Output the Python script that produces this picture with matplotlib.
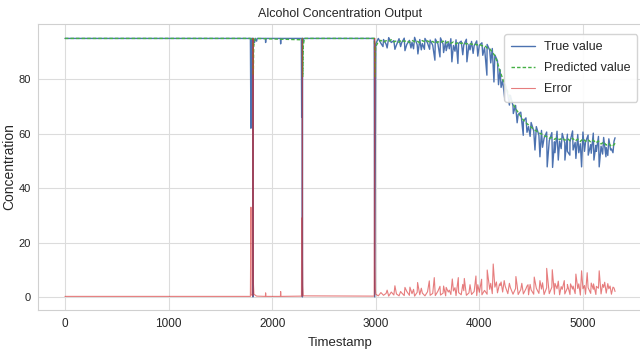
from __future__ import annotations

import matplotlib

matplotlib.use("Agg")
import matplotlib.pyplot as plt
import numpy as np
import seaborn as sns

# --- data ------------------------------------------------------------------
# quiet stretch (0..2990): explicit points around the three outage events
pre_t = [0, 1790, 1795, 1800, 1813, 1815, 1817, 1830, 1835, 1850, 1855, 1935, 1937, 1940,
         2080, 2082, 2085, 2282, 2285, 2288, 2290, 2292, 2294, 2300, 2305, 2985, 2990]
pre_true = [95.0, 95.0, 62.0, 95.0, 95.0, 0.0, 95.0, 93.5, 95.0, 94.0, 95.0, 95.0, 93.5, 95.0,
            95.0, 93.0, 95.0, 95.0, 66.0, 95.0, 95.0, 0.0, 95.0, 93.5, 95.0, 95.0, 0.0]

pred_pre_t = [0, 1790, 1797, 1816, 1818, 1822, 1830, 1840, 2286, 2293, 2295, 2300, 2310,
              2988, 2993, 2998]
pred_pre = [95.0, 95.0, 94.2, 95.0, 81.5, 92.0, 94.0, 95.0, 94.5, 95.0, 81.0, 92.0, 95.0,
            95.0, 81.0, 92.0]

err_pre_t = [0, 1790, 1795, 1797, 1813, 1815, 1817, 1819, 1824, 1850, 1935, 1937, 1940,
             2080, 2082, 2085, 2283, 2285, 2287, 2290, 2292, 2294, 2296, 2300, 2985, 2990,
             2993, 2996]
err_pre = [0.2, 0.2, 33.0, 1.0, 0.3, 95.0, 14.0, 5.0, 1.0, 0.3, 0.2, 1.5, 0.2,
           0.2, 2.0, 0.2, 0.3, 29.0, 1.0, 0.3, 95.0, 14.0, 4.0, 0.4, 0.3, 95.0,
           12.0, 3.0]

# noisy stretch (3000..5300, one reading every 25 steps, then the last sample)
noisy_t = list(range(3000, 5301, 25)) + [5310]
noisy_true = [
    93.0, 95.0, 93.2, 94.6, 92.9, 95.3, 93.5, 94.2, 92.6, 94.9, 93.4, 95.1, 92.8, 94.3,
    93.6, 95.4, 92.7, 94.6, 93.1, 95.0, 93.3, 94.4, 92.5, 94.8, 93.0, 95.2, 92.9, 94.1,
    93.5, 94.9, 92.4, 94.5, 93.2, 94.0, 92.6, 94.7, 92.8, 93.9, 92.3, 94.1, 92.5, 93.4,
    91.6, 92.8, 90.7, 91.3, 88.9, 86.8, 83.5, 79.5, 78.2, 74.3, 74.1, 70.2, 70.4, 67.1,
    67.9, 64.6, 65.8, 62.6, 64.1, 61.0, 62.6, 59.4, 61.2, 58.3, 60.6, 57.4, 60.4, 57.0,
    60.9, 57.2, 60.1, 56.6, 59.8, 57.0, 61.0, 56.8, 59.7, 56.3, 60.6, 56.9, 59.5, 56.0,
    60.2, 55.7, 59.0, 55.4, 58.6, 54.9, 58.1, 54.4, 57.2, 58.5,
]
noisy_pred = [
    92.0, 93.8, 94.3, 93.6, 94.2, 93.9, 94.5, 93.7, 94.1, 93.6, 94.4, 93.9, 94.2, 93.5,
    94.3, 93.8, 94.0, 93.4, 94.2, 93.7, 94.1, 93.5, 93.9, 93.2, 93.8, 93.4, 94.0, 93.3,
    93.8, 93.2, 93.7, 93.0, 93.6, 93.1, 93.5, 92.9, 93.3, 92.8, 93.1, 92.6, 92.9, 92.3,
    92.4, 91.5, 91.2, 90.0, 88.6, 86.0, 83.0, 80.2, 77.6, 75.3, 73.0, 71.0, 69.2, 67.8,
    66.3, 65.0, 64.0, 63.2, 62.4, 61.6, 61.0, 60.3, 59.9, 59.2, 58.9, 58.3, 58.6, 57.9,
    58.5, 57.8, 58.4, 57.6, 58.2, 57.4, 58.3, 57.3, 58.0, 57.1, 58.1, 57.2, 57.8, 56.9,
    57.6, 56.6, 57.3, 56.2, 56.9, 55.8, 56.4, 55.3, 55.9, 56.5,
]
noisy_err = [
    1.0, 0.4, 1.6, 0.6, 1.3, 0.3, 1.8, 0.7, 1.1, 0.4, 1.5, 0.5, 2.0, 0.6, 1.2, 0.3,
    1.7, 0.8, 1.4, 0.4, 1.9, 0.6, 1.3, 0.5, 2.1, 0.7, 1.4, 0.4, 1.8, 0.9, 2.2, 0.5,
    1.6, 0.8, 2.3, 0.6, 1.5, 0.9, 2.0, 0.5, 1.7, 0.8, 2.4, 1.0, 2.8, 1.2, 3.6, 1.5,
    4.2, 1.8, 3.9, 1.2, 3.4, 1.0, 3.1, 0.9, 2.7, 1.1, 3.0, 0.8, 2.6, 1.0, 3.2, 1.3,
    2.9, 0.9, 3.4, 1.2, 3.6, 1.0, 3.0, 0.8, 2.8, 1.1, 3.3, 0.9, 2.9, 1.2, 3.1, 0.7,
    3.0, 1.0, 3.4, 1.3, 2.8, 0.9, 3.2, 1.1, 3.5, 1.4, 3.0, 1.0, 3.3, 2.0,
]

# single-sample downward dips of the true value
dip_t = [3070, 3110, 3185, 3240, 3282, 3340, 3365, 3407, 3440, 3470, 3520, 3571, 3620,
         3655, 3680, 3710, 3735, 3765, 3793, 3840, 3880, 3910, 3940, 3985, 4033, 4073,
         4110, 4141, 4185, 4210, 4247, 4290, 4328, 4365, 4424, 4460, 4490, 4537, 4585,
         4610, 4655, 4707, 4730, 4762, 4790, 4826, 4850, 4874, 4905, 4932, 4960, 4987,
         5015, 5051, 5080, 5106, 5130, 5157, 5190, 5222, 5240, 5267, 5290]
dip_v = [92.0, 91.5, 91.0, 92.0, 90.5, 91.5, 91.2, 89.3, 90.8, 91.0, 91.0, 87.0, 88.2,
         89.8, 90.5, 91.2, 86.4, 90.3, 85.8, 89.0, 86.4, 90.8, 89.5, 88.5, 88.8, 81.5,
         86.0, 79.0, 78.0, 77.0, 72.3, 70.5, 67.4, 64.0, 59.4, 60.5, 59.0, 54.0, 51.5,
         55.0, 47.8, 47.6, 53.0, 50.3, 54.5, 50.3, 53.5, 52.1, 54.0, 50.9, 53.0, 47.8,
         53.5, 52.1, 52.8, 50.3, 53.5, 47.8, 52.5, 51.5, 52.0, 54.0, 53.0]

# single-sample error spikes
spike_t = [3110, 3185, 3240, 3282, 3330, 3365, 3404, 3440, 3517, 3565, 3620, 3655, 3680,
           3710, 3739, 3765, 3797, 3840, 3855, 3910, 3967, 3985, 4022, 4076, 4110, 4134,
           4165, 4195, 4210, 4240, 4290, 4353, 4365, 4410, 4460, 4470, 4490, 4530, 4585,
           4610, 4650, 4704, 4730, 4762, 4790, 4820, 4850, 4880, 4905, 4932, 4960, 4987,
           5015, 5041, 5080, 5102, 5130, 5157, 5190, 5210, 5240, 5262, 5290]
spike_v = [2.5, 4.1, 2.0, 3.5, 3.6, 2.8, 5.3, 3.2, 5.9, 7.1, 3.9, 4.0, 3.5,
           2.5, 6.6, 3.4, 7.1, 4.6, 6.8, 4.5, 7.7, 4.5, 6.5, 9.9, 5.0, 12.1,
           5.5, 4.8, 5.5, 6.0, 5.0, 7.5, 4.2, 5.0, 4.0, 4.5, 4.6, 7.3, 6.0,
           5.2, 10.5, 10.0, 5.0, 5.8, 3.8, 6.0, 4.6, 4.8, 4.0, 8.4, 4.8, 9.6,
           4.2, 8.9, 5.1, 4.8, 3.9, 9.6, 4.6, 5.4, 4.9, 4.0, 3.6]

x_ticks = [0, 1000, 2000, 3000, 4000, 5000]
y_ticks = [0, 20, 40, 60, 80]

FONT = ["Liberation Sans", "DejaVu Sans"]
INK = "#262626"


def _merge(*parts):
    """Join (t, v) lists and order them by timestamp."""
    t = np.concatenate([np.asarray(p[0], dtype=float) for p in parts])
    v = np.concatenate([np.asarray(p[1], dtype=float) for p in parts])
    order = np.argsort(t, kind="stable")
    return t[order], v[order]


def main() -> None:
    sns.set_style("whitegrid")
    plt.rcParams["font.family"] = FONT
    plt.rcParams["axes.edgecolor"] = "#d0d0d0"
    plt.rcParams["grid.color"] = "#dcdcdc"

    t_true, v_true = _merge((pre_t, pre_true), (noisy_t, noisy_true), (dip_t, dip_v))
    t_pred, v_pred = _merge((pred_pre_t, pred_pre), (noisy_t, noisy_pred))
    t_err, v_err = _merge((err_pre_t, err_pre), (noisy_t, noisy_err), (spike_t, spike_v))

    fig = plt.figure(figsize=(6.4, 3.52), dpi=100)
    ax = fig.add_axes([37.5 / 640, 42 / 352, 605 / 640, 286 / 352])

    ax.plot(t_true, v_true, color="#4c72b0", lw=1.0, label="True value")
    ax.plot(t_pred, v_pred, color="#44b044", lw=1.0, ls=(0, (2.5, 1.5)), label="Predicted value")
    ax.plot(t_err, v_err, color="#d62728", lw=0.8, alpha=0.6, label="Error")

    ax.set_xlim(-265, 5575)
    ax.set_ylim(-4.8, 100.3)
    ax.set_xticks(x_ticks)
    ax.set_yticks(y_ticks)
    ax.tick_params(axis="both", colors=INK, length=0)
    ax.tick_params(axis="x", labelsize=8.5, pad=6)
    ax.tick_params(axis="y", labelsize=8, pad=5)

    ax.set_title("Alcohol Concentration Output", fontsize=9, color=INK, pad=5)
    ax.set_xlabel("Timestamp", fontsize=9.5, color=INK, labelpad=5)
    ax.set_ylabel("Concentration", fontsize=10, color=INK)
    # bottom of the rotated label sits just left of the tick labels
    ax.yaxis.set_label_coords((16.5 - 37.5) / 605, 0.5)

    leg = ax.legend(
        loc="upper right",
        bbox_to_anchor=(637 / 640, 1 - 34 / 352),
        bbox_transform=fig.transFigure,
        borderaxespad=0,
        borderpad=0.55,
        fontsize=9,
        labelspacing=0.72,
        handlelength=1.9,
        handletextpad=0.7,
        framealpha=0.9,
    )
    leg.get_frame().set_edgecolor("#d0d0d0")

    fig.savefig("out.png", dpi=100)
    plt.close(fig)


if __name__ == "__main__":
    main()
